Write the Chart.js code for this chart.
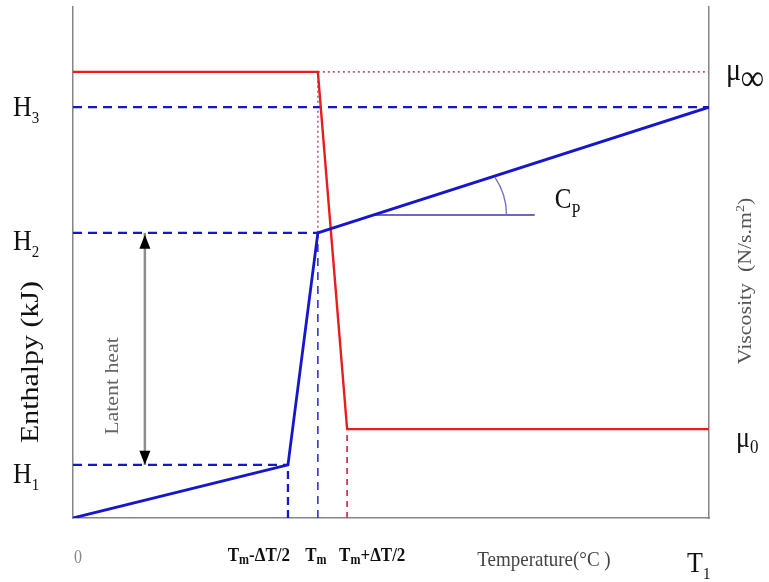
<!DOCTYPE html>
<html>
<head>
<meta charset="utf-8">
<script src="https://cdn.jsdelivr.net/npm/chart.js@4.4.1/dist/chart.umd.min.js"></script>
<style>
  html, body { margin: 0; padding: 0; background: #fff; }
  #wrap { width: 769px; height: 582px; }
</style>
</head>
<body>
<div id="wrap"><canvas id="chart" width="769" height="582"></canvas></div>
<script>
// temperature marks: 0, Tm-ΔT/2, Tm, Tm+ΔT/2, T1
var tempTicks = [0, 33.8, 38.5, 43.1, 100];

// enthalpy curve (blue)
var enthalpyT = [0, 33.8, 38.5, 100];
var enthalpyH = [0, 10.4, 55.8, 80.4];
var enthalpyLevels = [10.4, 55.8, 80.4];   // H1, H2, H3
var levelEnds = [33.8, 38.5, 100];

// viscosity curve (red)
var viscosityT = [0, 38.5, 43.1, 100];
var viscosityMu = [87.3, 87.3, 17.4, 17.4];  // mu_inf ... mu_0

// Cp slope marker
var cpLevel = 59.3;
var cpEnd = 72.6;
var latentX = 11.3;

var SERIF = "'Liberation Serif', 'Times New Roman', serif";
var STRETCH = 1.15;
var blue = 'rgb(22,22,205)';
var red = 'rgb(232,30,30)';

function pts(xs, ys) {
  return xs.map(function(x, i) { return { x: x, y: ys[i] }; });
}

function line(data, color, width, dash, axis) {
  return {
    data: data,
    borderColor: color,
    borderWidth: width,
    borderDash: dash || [],
    showLine: true,
    pointRadius: 0,
    fill: false,
    yAxisID: axis || 'y'
  };
}

// where the enthalpy line crosses the Cp level
function cpStart() {
  for (var i = 1; i < enthalpyT.length; i++) {
    if (enthalpyH[i] >= cpLevel && enthalpyH[i - 1] <= cpLevel) {
      var f = (cpLevel - enthalpyH[i - 1]) / (enthalpyH[i] - enthalpyH[i - 1]);
      return enthalpyT[i - 1] + f * (enthalpyT[i] - enthalpyT[i - 1]);
    }
  }
  return 0;
}

var datasets = [
  line(pts(enthalpyT, enthalpyH), blue, 2.8),
  line(pts(viscosityT, viscosityMu), red, 2.4, null, 'yV'),
  line([{ x: cpStart(), y: cpLevel }, { x: cpEnd, y: cpLevel }], 'rgb(105,105,200)', 2),
  line([{ x: latentX, y: enthalpyLevels[0] }, { x: latentX, y: enthalpyLevels[1] }], '#8c8c8c', 2.5)
];
enthalpyLevels.forEach(function(h, i) {
  datasets.push(line([{ x: 0, y: h }, { x: levelEnds[i], y: h }], blue, 2.3, [9, 6]));
});
datasets.push(line([{ x: tempTicks[1], y: 0 }, { x: tempTicks[1], y: enthalpyLevels[0] }], blue, 2.3, [8, 5]));
datasets.push(line([{ x: tempTicks[2], y: 0 }, { x: tempTicks[2], y: enthalpyLevels[1] }], 'rgb(40,40,200)', 1.5, [8, 6]));
datasets.push(line([{ x: tempTicks[3], y: 0 }, { x: tempTicks[3], y: viscosityMu[2] }], 'rgb(215,50,80)', 1.8, [6, 5], 'yV'));
datasets.push(line([{ x: tempTicks[2], y: enthalpyLevels[1] }, { x: tempTicks[2], y: viscosityMu[0] }], 'rgb(170,100,140)', 1.6, [2, 3], 'yV'));
datasets.push(line([{ x: tempTicks[2], y: viscosityMu[0] }, { x: tempTicks[4], y: viscosityMu[0] }], 'rgb(190,85,135)', 1.6, [2, 3], 'yV'));

function rich(ctx, parts, px, py, align, rotate, color) {
  ctx.save();
  ctx.translate(px, py);
  if (rotate) { ctx.rotate(-Math.PI / 2); ctx.scale(STRETCH, 1); }
  else { ctx.scale(1, STRETCH); }
  var w = 0;
  parts.forEach(function(p) { ctx.font = p.f; w += ctx.measureText(p.t).width; });
  var cx = align === 'center' ? -w / 2 : (align === 'right' ? -w : 0);
  ctx.fillStyle = color || '#111';
  ctx.textAlign = 'left';
  ctx.textBaseline = 'alphabetic';
  parts.forEach(function(p) {
    ctx.font = p.f;
    ctx.fillText(p.t, cx, p.dy || 0);
    cx += ctx.measureText(p.t).width;
  });
  ctx.restore();
}

function arrowHead(ctx, x, tipY, dir) {
  ctx.beginPath();
  ctx.moveTo(x, tipY);
  ctx.lineTo(x - 5.5, tipY + dir * 14);
  ctx.lineTo(x + 5.5, tipY + dir * 14);
  ctx.closePath();
  ctx.fill();
}

var annotations = {
  id: 'annotations',
  afterDatasetsDraw: function(chart) {
    var ctx = chart.ctx;
    var x = chart.scales.x, y = chart.scales.y, yV = chart.scales.yV;

    // Cp angle arc
    var ix = x.getPixelForValue(cpStart()), iy = y.getPixelForValue(cpLevel);
    ctx.save();
    ctx.strokeStyle = 'rgb(110,110,200)';
    ctx.lineWidth = 1.3;
    ctx.beginPath();
    ctx.arc(ix + 66, iy, 67, 0, -0.6, true);
    ctx.stroke();

    // latent heat arrow heads
    ctx.fillStyle = '#000';
    var ax = x.getPixelForValue(latentX);
    arrowHead(ctx, ax, y.getPixelForValue(enthalpyLevels[1]) + 2, 1);
    arrowHead(ctx, ax, y.getPixelForValue(enthalpyLevels[0]), -1);
    ctx.restore();

    // enthalpy level labels
    var offs = [18, 17, 9];
    enthalpyLevels.forEach(function(h, i) {
      rich(ctx, [{ t: 'H', f: '26px ' + SERIF }, { t: String(i + 1), f: '15px ' + SERIF, dy: 6 }],
        13, y.getPixelForValue(h) + offs[i], 'left');
    });
    rich(ctx, [{ t: 'Enthalpy (kJ)', f: '26px ' + SERIF }], 38, 362, 'center', true);
    rich(ctx, [{ t: 'Latent heat', f: '19px ' + SERIF }], 118, 386, 'center', true, '#666');

    // viscosity side
    rich(ctx, [{ t: 'μ', f: '28px ' + SERIF }, { t: '∞', f: 'bold 32px ' + SERIF, dy: 9 }],
      726, yV.getPixelForValue(viscosityMu[0]) + 8, 'left');
    rich(ctx, [{ t: 'μ', f: '26px ' + SERIF }, { t: '0', f: '17px ' + SERIF, dy: 5 }],
      736, yV.getPixelForValue(viscosityMu[3]) + 18, 'left');
    rich(ctx, [{ t: 'Viscosity  (N/s.m', f: '19px ' + SERIF }, { t: '2', f: '12px ' + SERIF, dy: -7 },
      { t: ')', f: '19px ' + SERIF }], 751, 281, 'center', true, '#555');

    // Cp label
    rich(ctx, [{ t: 'C', f: '25px ' + SERIF }, { t: 'P', f: '16px ' + SERIF, dy: 8 }],
      x.getPixelForValue(cpEnd) + 20, iy - 7, 'left');

    // temperature axis labels
    var B = 'bold 17px ' + SERIF, S = 'bold 12px ' + SERIF;
    var base = y.bottom + 43;
    rich(ctx, [{ t: '0', f: '16px ' + SERIF }], x.getPixelForValue(tempTicks[0]) + 5, y.bottom + 45, 'center', false, '#888');
    rich(ctx, [{ t: 'T', f: B }, { t: 'm', f: S, dy: 3 }, { t: '-ΔT/2', f: B }],
      x.getPixelForValue(tempTicks[1]) + 2, base, 'right');
    rich(ctx, [{ t: 'T', f: B }, { t: 'm', f: S, dy: 3 }],
      x.getPixelForValue(tempTicks[2]) - 2, base, 'center');
    rich(ctx, [{ t: 'T', f: B }, { t: 'm', f: S, dy: 3 }, { t: '+ΔT/2', f: B }],
      x.getPixelForValue(tempTicks[3]) - 8, base, 'left');
    rich(ctx, [{ t: 'Temperature(°C )', f: '19px ' + SERIF }], 544, y.bottom + 48, 'center', false, '#444');
    rich(ctx, [{ t: 'T', f: '26px ' + SERIF }, { t: '1', f: '15px ' + SERIF, dy: 6 }],
      x.getPixelForValue(tempTicks[4]) - 22, y.bottom + 54, 'left');
  }
};

var axisGrey = '#858585';
var hidden = { display: false };

new Chart(document.getElementById('chart'), {
  type: 'scatter',
  data: { datasets: datasets },
  options: {
    responsive: false,
    animation: false,
    events: [],
    layout: { padding: { left: 73, right: 60, top: 7, bottom: 64 } },
    plugins: { legend: hidden, tooltip: { enabled: false } },
    scales: {
      x: {
        type: 'linear', min: 0, max: 100,
        ticks: hidden, grid: { display: false, drawTicks: false },
        border: { display: true, color: axisGrey, width: 1.5 }
      },
      y: {
        type: 'linear', position: 'left', min: 0, max: 100,
        ticks: hidden, grid: { display: false, drawTicks: false },
        border: { display: true, color: axisGrey, width: 1.5 }
      },
      yV: {
        type: 'linear', position: 'right', min: 0, max: 100,
        ticks: hidden, grid: { display: false, drawTicks: false },
        border: { display: true, color: axisGrey, width: 1.5 }
      }
    }
  },
  plugins: [annotations]
});
</script>
</body>
</html>
